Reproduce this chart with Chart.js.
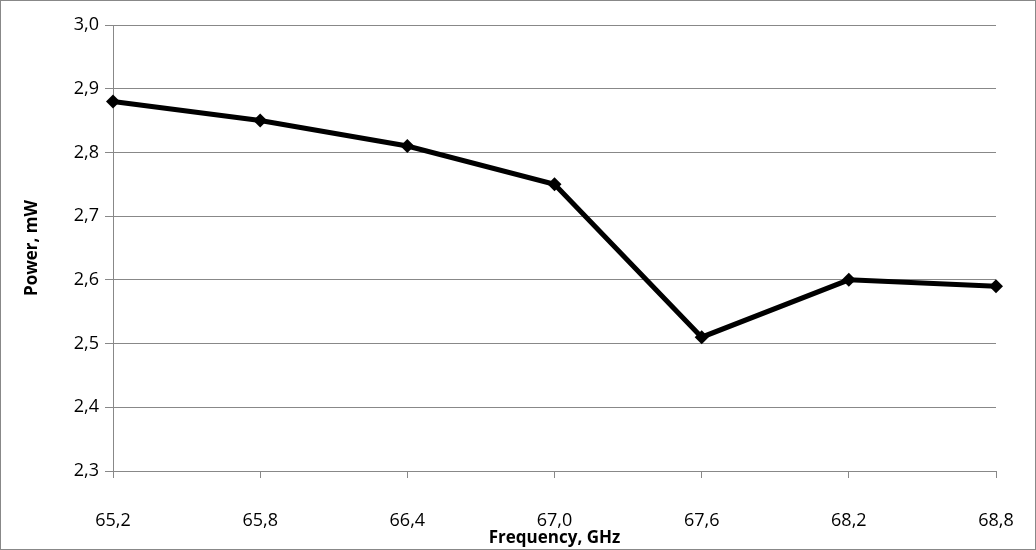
<!DOCTYPE html>
<html lang="en">
<head>
<meta charset="UTF-8">
<script src="https://cdn.jsdelivr.net/npm/chart.js@4"></script>
<style>
  body { margin: 0; background: #fff; }
</style>
</head>
<body>
<canvas id="chart" width="1036" height="550"></canvas>
<script>
  const frequencies = ['65,2', '65,8', '66,4', '67,0', '67,6', '68,2', '68,8'];
  const power = [2.88, 2.85, 2.81, 2.75, 2.51, 2.60, 2.59];

  // thin grey frame around the whole picture
  const frame = {
    id: 'frame',
    afterDraw(chart) {
      const c = chart.ctx;
      c.save();
      c.strokeStyle = '#888';
      c.lineWidth = 1;
      c.strokeRect(0.5, 0.5, chart.width - 1, chart.height - 1);
      c.restore();
    }
  };

  new Chart(document.getElementById('chart'), {
    type: 'line',
    data: {
      labels: frequencies,
      datasets: [{
        data: power,
        borderColor: '#000',
        backgroundColor: '#000',
        borderWidth: 5,
        tension: 0,
        pointStyle: 'rectRot',
        pointRadius: 7,
        pointBorderWidth: 0
      }]
    },
    options: {
      responsive: false,
      animation: false,
      layout: { padding: { top: 25, right: 40, left: 22, bottom: 0 } },
      plugins: { legend: { display: false }, tooltip: { enabled: false } },
      scales: {
        x: {
          offset: false,
          grid: { drawOnChartArea: false, tickLength: 7, color: '#888' },
          border: { color: '#888' },
          ticks: { color: '#000', font: { family: 'Open Sans', size: 18 }, padding: 32, maxRotation: 0 },
          title: { display: true, text: 'Frequency, GHz', color: '#000',
                   font: { family: 'Open Sans', size: 17, weight: 'bold' }, padding: { top: -20, bottom: 2 } },
          afterFit(s) { s.height = 79; s.paddingRight = 0; s.paddingLeft = 0; }
        },
        y: {
          min: 2.3, max: 3.0,
          grid: { color: '#888', tickLength: 8 },
          border: { color: '#888' },
          ticks: { stepSize: 0.1, color: '#000', font: { family: 'Open Sans', size: 18 }, padding: 6,
                   callback: v => v.toFixed(1).replace('.', ',') },
          title: { display: true, text: 'Power, mW', color: '#000',
                   font: { family: 'Open Sans', size: 17, weight: 'bold' }, padding: 0 },
          afterFit(s) { s.width = 91; }
        }
      }
    },
    plugins: [frame]
  });
</script>
</body>
</html>
